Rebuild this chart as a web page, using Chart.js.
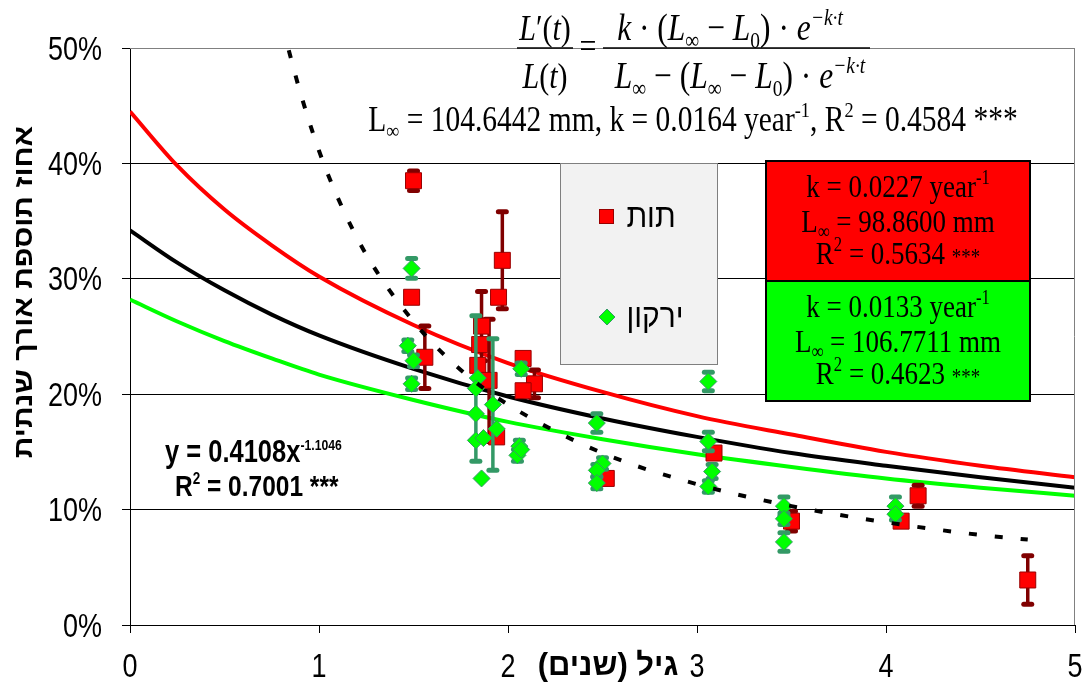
<!DOCTYPE html>
<html>
<head>
<meta charset="utf-8">
<script src="https://cdn.jsdelivr.net/npm/chart.js@4"></script>
<style>
  html, body { margin: 0; padding: 0; background: #fff; }
</style>
</head>
<body>
<canvas id="chart" width="1083" height="684"></canvas>
<script>
const SANS = '"Liberation Sans", Arial, "DejaVu Sans", sans-serif';
const SERIF = '"Liberation Serif", "Times New Roman", serif';
const VS = 1.2; // the original picture is stretched vertically, text too

// ticks
const xTickValues = [0, 1, 2, 3, 4, 5];
const yTickValues = [0, 10, 20, 30, 40, 50];

// תות (red squares): age, percent, error
const ageRed = [1.50, 1.49, 1.56, 1.86, 1.85, 1.84, 1.90, 1.94, 1.95, 1.97, 2.08, 2.14, 2.08, 2.52, 3.09, 3.50, 4.08, 4.17, 4.75];
const pctRed = [38.5, 28.4, 23.2, 25.9, 24.3, 22.5, 21.2, 16.3, 28.4, 31.6, 23.1, 20.9, 20.3, 12.7, 14.9, 9.0, 9.0, 11.2, 3.9];
const errRed = [0.85, 0, 2.7, 3.0, 0, 0, 5.3, 0, 0, 4.2, 0, 1.2, 0, 0, 0, 0.85, 0, 0.9, 2.1];

// ירקון (green diamonds)
const ageGreen = [1.49, 1.47, 1.50, 1.49, 1.84, 1.83, 1.83, 1.83, 1.87, 1.86, 1.92, 1.94, 2.07, 2.06, 2.05, 2.07, 2.47, 2.50, 2.47, 2.47, 3.06, 3.06, 3.08, 3.06, 3.46, 3.46, 3.46, 4.05, 4.05];
const pctGreen = [30.9, 24.2, 22.9, 20.9, 21.4, 20.5, 18.3, 16.0, 16.2, 12.7, 19.1, 17.0, 22.2, 15.5, 14.7, 15.2, 17.5, 14.0, 13.4, 12.3, 21.1, 15.9, 13.3, 12.0, 10.3, 9.2, 7.2, 10.3, 9.6];
const errGreen = [0.85, 0.5, 0.5, 0.5, 0, 6.3, 0, 0, 0, 0, 5.7, 0, 0.5, 0.5, 0.5, 0, 0.8, 0.5, 0.5, 0.5, 0.8, 0.8, 0.6, 0.5, 0.8, 0.5, 0.8, 0.8, 0.5];

// fitted growth curves
const curveAge = [0, 0.25, 0.5, 0.75, 1, 1.5, 2, 2.5, 3, 3.5, 4, 4.5, 5];
const curveRed = [44.5, 39.8, 36.0, 32.9, 30.2, 26.0, 22.7, 20.2, 18.1, 16.5, 15.0, 13.8, 12.8];
const curveAll = [34.2, 31.4, 29.0, 26.9, 25.1, 22.2, 19.8, 17.9, 16.3, 14.9, 13.8, 12.8, 11.9];
const curveGreen = [28.2, 26.3, 24.6, 23.1, 21.7, 19.5, 17.6, 16.1, 14.8, 13.7, 12.7, 11.9, 11.2];

// power trend line (dotted)
const powerAge = [0.84, 0.9, 1, 1.1, 1.25, 1.5, 1.75, 2, 2.5, 3, 3.5, 4, 4.5, 4.75];
const powerPct = [49.8, 46.2, 41.1, 37.0, 32.1, 26.3, 22.1, 19.1, 14.9, 12.2, 10.3, 8.9, 7.8, 7.4];

function toPoints(xs, ys) {
  return xs.map((x, i) => ({ x: x, y: ys[i] }));
}

function seg(t, k, it, sc) {
  return { t: t, k: k || 'n', it: !!it, sc: sc };
}

function segFont(s, size, fam, bold) {
  let sz = size;
  if (s.k !== 'n') sz = size * (s.sc || 0.62);
  return (s.it ? 'italic ' : '') + (bold ? 'bold ' : '') + sz.toFixed(1) + 'px ' + fam;
}

// draws a line of text made of normal / superscript / subscript pieces
function drawRich(ctx, segs, x, y, size, fam, align, bold) {
  let w = 0;
  segs.forEach(s => { ctx.font = segFont(s, size, fam, bold); w += ctx.measureText(s.t).width; });
  let cx = align === 'center' ? x - w / 2 : (align === 'right' ? x - w : x);
  ctx.save();
  ctx.translate(0, y);
  ctx.scale(1, VS);
  ctx.textAlign = 'left';
  ctx.textBaseline = 'alphabetic';
  segs.forEach(s => {
    ctx.font = segFont(s, size, fam, bold);
    let dy = 0;
    if (s.k === 'sup') dy = -size * 0.4;
    if (s.k === 'sub') dy = size * 0.2;
    ctx.fillText(s.t, cx, dy);
    cx += ctx.measureText(s.t).width;
  });
  ctx.restore();
  return w;
}

function stretchedText(ctx, text, x, y, sx, sy) {
  ctx.save();
  ctx.translate(x, y);
  ctx.scale(sx, sy);
  ctx.fillText(text, 0, 0);
  ctx.restore();
}

function line(ctx, x1, y1, x2, y2) {
  ctx.beginPath();
  ctx.moveTo(x1, y1);
  ctx.lineTo(x2, y2);
  ctx.stroke();
}

function drawErrBars(chart, xs, ys, es, color) {
  const ctx = chart.ctx, sx = chart.scales.x, sy = chart.scales.y;
  ctx.save();
  ctx.strokeStyle = color;
  ctx.lineCap = 'round';
  xs.forEach((xv, i) => {
    if (!es[i]) return;
    const px = sx.getPixelForValue(xv);
    const top = sy.getPixelForValue(ys[i] + es[i]);
    const bot = sy.getPixelForValue(ys[i] - es[i]);
    ctx.lineWidth = 3.5;
    line(ctx, px, top, px, bot);
    ctx.lineWidth = 5;
    line(ctx, px - 4, top, px + 4, top);
    line(ctx, px - 4, bot, px + 4, bot);
  });
  ctx.restore();
}

const decor = {
  id: 'decor',
  beforeDatasetDraw(chart, args) {
    if (args.meta.label === 'red') drawErrBars(chart, ageRed, pctRed, errRed, '#800000');
    if (args.meta.label === 'green') drawErrBars(chart, ageGreen, pctGreen, errGreen, '#339966');
  },
  afterDraw(chart) {
    const ctx = chart.ctx, a = chart.chartArea;
    const sx = chart.scales.x, sy = chart.scales.y;
    ctx.save();
    // plot frame top / right
    ctx.strokeStyle = '#808080';
    ctx.lineWidth = 1;
    line(ctx, a.left, a.top + 0.5, a.right, a.top + 0.5);
    line(ctx, a.right - 0.5, a.top, a.right - 0.5, a.bottom);

    // tick labels
    ctx.fillStyle = '#000';
    ctx.font = '27px ' + SANS;
    ctx.textBaseline = 'alphabetic';
    ctx.textAlign = 'center';
    xTickValues.forEach(v => stretchedText(ctx, String(v), sx.getPixelForValue(v), 677, 1, VS));
    ctx.textAlign = 'right';
    yTickValues.forEach(v => stretchedText(ctx, v + '%', 102, sy.getPixelForValue(v) + 11.5, 1, VS));

    // legend
    ctx.fillStyle = '#f2f2f2';
    ctx.fillRect(560, 163, 158, 202);
    ctx.strokeStyle = '#7f7f7f';
    ctx.strokeRect(560.5, 163.5, 157, 201);
    ctx.fillStyle = '#ff0000';
    ctx.strokeStyle = '#990000';
    ctx.fillRect(599, 209, 15, 15);
    ctx.strokeRect(599.5, 209.5, 14, 14);
    ctx.fillStyle = '#00ff00';
    ctx.strokeStyle = '#339966';
    ctx.beginPath();
    ctx.moveTo(607, 309); ctx.lineTo(615, 317); ctx.lineTo(607, 325); ctx.lineTo(599, 317);
    ctx.closePath(); ctx.fill(); ctx.stroke();
    ctx.fillStyle = '#000';
    ctx.direction = 'rtl';
    ctx.textAlign = 'center';
    ctx.textBaseline = 'middle';
    ctx.font = '30px ' + SANS;
    stretchedText(ctx, 'תות', 651, 218, 1, 1.1);
    stretchedText(ctx, 'ירקון', 655, 318, 1, 1.1);
    ctx.direction = 'ltr';

    // parameter boxes
    ctx.lineWidth = 2;
    ctx.strokeStyle = '#000';
    ctx.fillStyle = '#ff0000';
    ctx.fillRect(766, 161, 264, 120);
    ctx.strokeRect(766, 161, 264, 120);
    ctx.fillStyle = '#00ff00';
    ctx.fillRect(766, 281, 264, 120);
    ctx.strokeRect(766, 281, 264, 120);
    ctx.fillStyle = '#000';
    const bs = 27;
    drawRich(ctx, [seg('k = 0.0227 year'), seg('-1', 'sup')], 898, 197, bs, SERIF, 'center');
    drawRich(ctx, [seg('L'), seg('∞', 'sub'), seg(' = 98.8600 mm')], 898, 232, bs, SERIF, 'center');
    drawRich(ctx, [seg('R'), seg('2', 'sup'), seg(' = 0.5634 '), seg('***', 'sm', false, 0.7)], 898, 264, bs, SERIF, 'center');
    drawRich(ctx, [seg('k = 0.0133 year'), seg('-1', 'sup')], 898, 317, bs, SERIF, 'center');
    drawRich(ctx, [seg('L'), seg('∞', 'sub'), seg(' = 106.7711 mm')], 898, 352, bs, SERIF, 'center');
    drawRich(ctx, [seg('R'), seg('2', 'sup'), seg(' = 0.4623 '), seg('***', 'sm', false, 0.7)], 898, 384, bs, SERIF, 'center');

    // power trend label
    drawRich(ctx, [seg('y = 0.4108x'), seg('-1.1046', 'sup', false, 0.48)], 165, 462, 25.5, SANS, 'left', true);
    drawRich(ctx, [seg('R'), seg('2', 'sup', false, 0.55), seg(' = 0.7001 ***')], 175, 496, 24.5, SANS, 'left', true);

    // growth formula
    const fs = 30;
    drawRich(ctx, [seg('L', 'n', true), seg('′'), seg('('), seg('t', 'n', true), seg(')')], 545, 40, fs, SERIF, 'center');
    drawRich(ctx, [seg('L', 'n', true), seg('('), seg('t', 'n', true), seg(')')], 545, 88, fs, SERIF, 'center');
    ctx.lineWidth = 1.5;
    line(ctx, 517, 48, 573, 48);
    drawRich(ctx, [seg('=')], 588, 58, fs, SERIF, 'center');
    const eTail = [seg(' · '), seg('e', 'n', true), seg('−k·t', 'sup', true)];
    drawRich(ctx, [seg('k', 'n', true), seg(' · ('), seg('L', 'n', true), seg('∞', 'sub'), seg(' − '),
      seg('L', 'n', true), seg('0', 'sub'), seg(')')].concat(eTail), 730, 40, 31.5, SERIF, 'center');
    drawRich(ctx, [seg('L', 'n', true), seg('∞', 'sub'), seg(' − ('), seg('L', 'n', true), seg('∞', 'sub'), seg(' − '),
      seg('L', 'n', true), seg('0', 'sub'), seg(')')].concat(eTail), 740, 88, 31.5, SERIF, 'center');
    line(ctx, 603, 48, 870, 48);
    drawRich(ctx, [seg('L'), seg('∞', 'sub'), seg(' = 104.6442 mm, k = 0.0164 year'), seg('-1', 'sup'),
      seg(', R'), seg('2', 'sup'), seg(' = 0.4584 ***')], 693, 131, 29.5, SERIF, 'center');

    // axis titles
    ctx.direction = 'rtl';
    ctx.textAlign = 'center';
    ctx.textBaseline = 'middle';
    ctx.font = 'bold 31px ' + SANS;
    stretchedText(ctx, 'גיל (שנים)', 608, 666, 1, 1);
    ctx.save();
    ctx.translate(25, 292);
    ctx.rotate(-Math.PI / 2);
    ctx.scale(1.16, 1);
    ctx.font = 'bold 26px ' + SANS;
    ctx.fillText('אחוז תוספת אורך שנתית', 0, 0);
    ctx.restore();
    ctx.restore();
  }
};

const curveStyle = { showLine: true, pointRadius: 0, borderWidth: 4, cubicInterpolationMode: 'monotone', fill: false };

new Chart(document.getElementById('chart'), {
  type: 'scatter',
  data: {
    datasets: [
      Object.assign({ label: 'power', data: toPoints(powerAge, powerPct), borderColor: '#000', borderDash: [8, 18], order: 0 }, curveStyle),
      { label: 'green', data: toPoints(ageGreen, pctGreen), pointStyle: 'rectRot', pointRadius: 8.5,
        backgroundColor: '#00ff00', borderColor: '#339966', borderWidth: 1, order: 1 },
      { label: 'red', data: toPoints(ageRed, pctRed), pointStyle: 'rect', pointRadius: 11.3,
        backgroundColor: '#ff0000', borderColor: '#990000', borderWidth: 1, order: 2 },
      Object.assign({ label: 'greenFit', data: toPoints(curveAge, curveGreen), borderColor: '#00ff00', order: 3 }, curveStyle),
      Object.assign({ label: 'allFit', data: toPoints(curveAge, curveAll), borderColor: '#000', order: 4 }, curveStyle),
      Object.assign({ label: 'redFit', data: toPoints(curveAge, curveRed), borderColor: '#ff0000', order: 5 }, curveStyle)
    ]
  },
  options: {
    responsive: false,
    animation: false,
    devicePixelRatio: 1,
    layout: { autoPadding: false, padding: { top: 48, right: 8, left: 0, bottom: 0 } },
    plugins: { legend: { display: false }, tooltip: { enabled: false } },
    scales: {
      x: {
        type: 'linear', min: 0, max: 5,
        afterBuildTicks: s => { s.ticks = xTickValues.map(v => ({ value: v })); },
        afterFit: s => { s.height = 59; s.paddingLeft = 0; s.paddingRight = 0; },
        ticks: { display: false },
        grid: { drawOnChartArea: false, tickLength: 8, tickColor: '#000' },
        border: { color: '#000', width: 1 }
      },
      y: {
        type: 'linear', min: 0, max: 50,
        afterBuildTicks: s => { s.ticks = yTickValues.map(v => ({ value: v })); },
        afterFit: s => { s.width = 130; s.paddingTop = 0; s.paddingBottom = 0; },
        ticks: { display: false },
        grid: { color: c => (c.tick && c.tick.value === 50) ? '#808080' : '#000', tickLength: 8, tickColor: '#000', lineWidth: 1 },
        border: { color: '#000', width: 1 }
      }
    }
  },
  plugins: [decor]
});
</script>
</body>
</html>
